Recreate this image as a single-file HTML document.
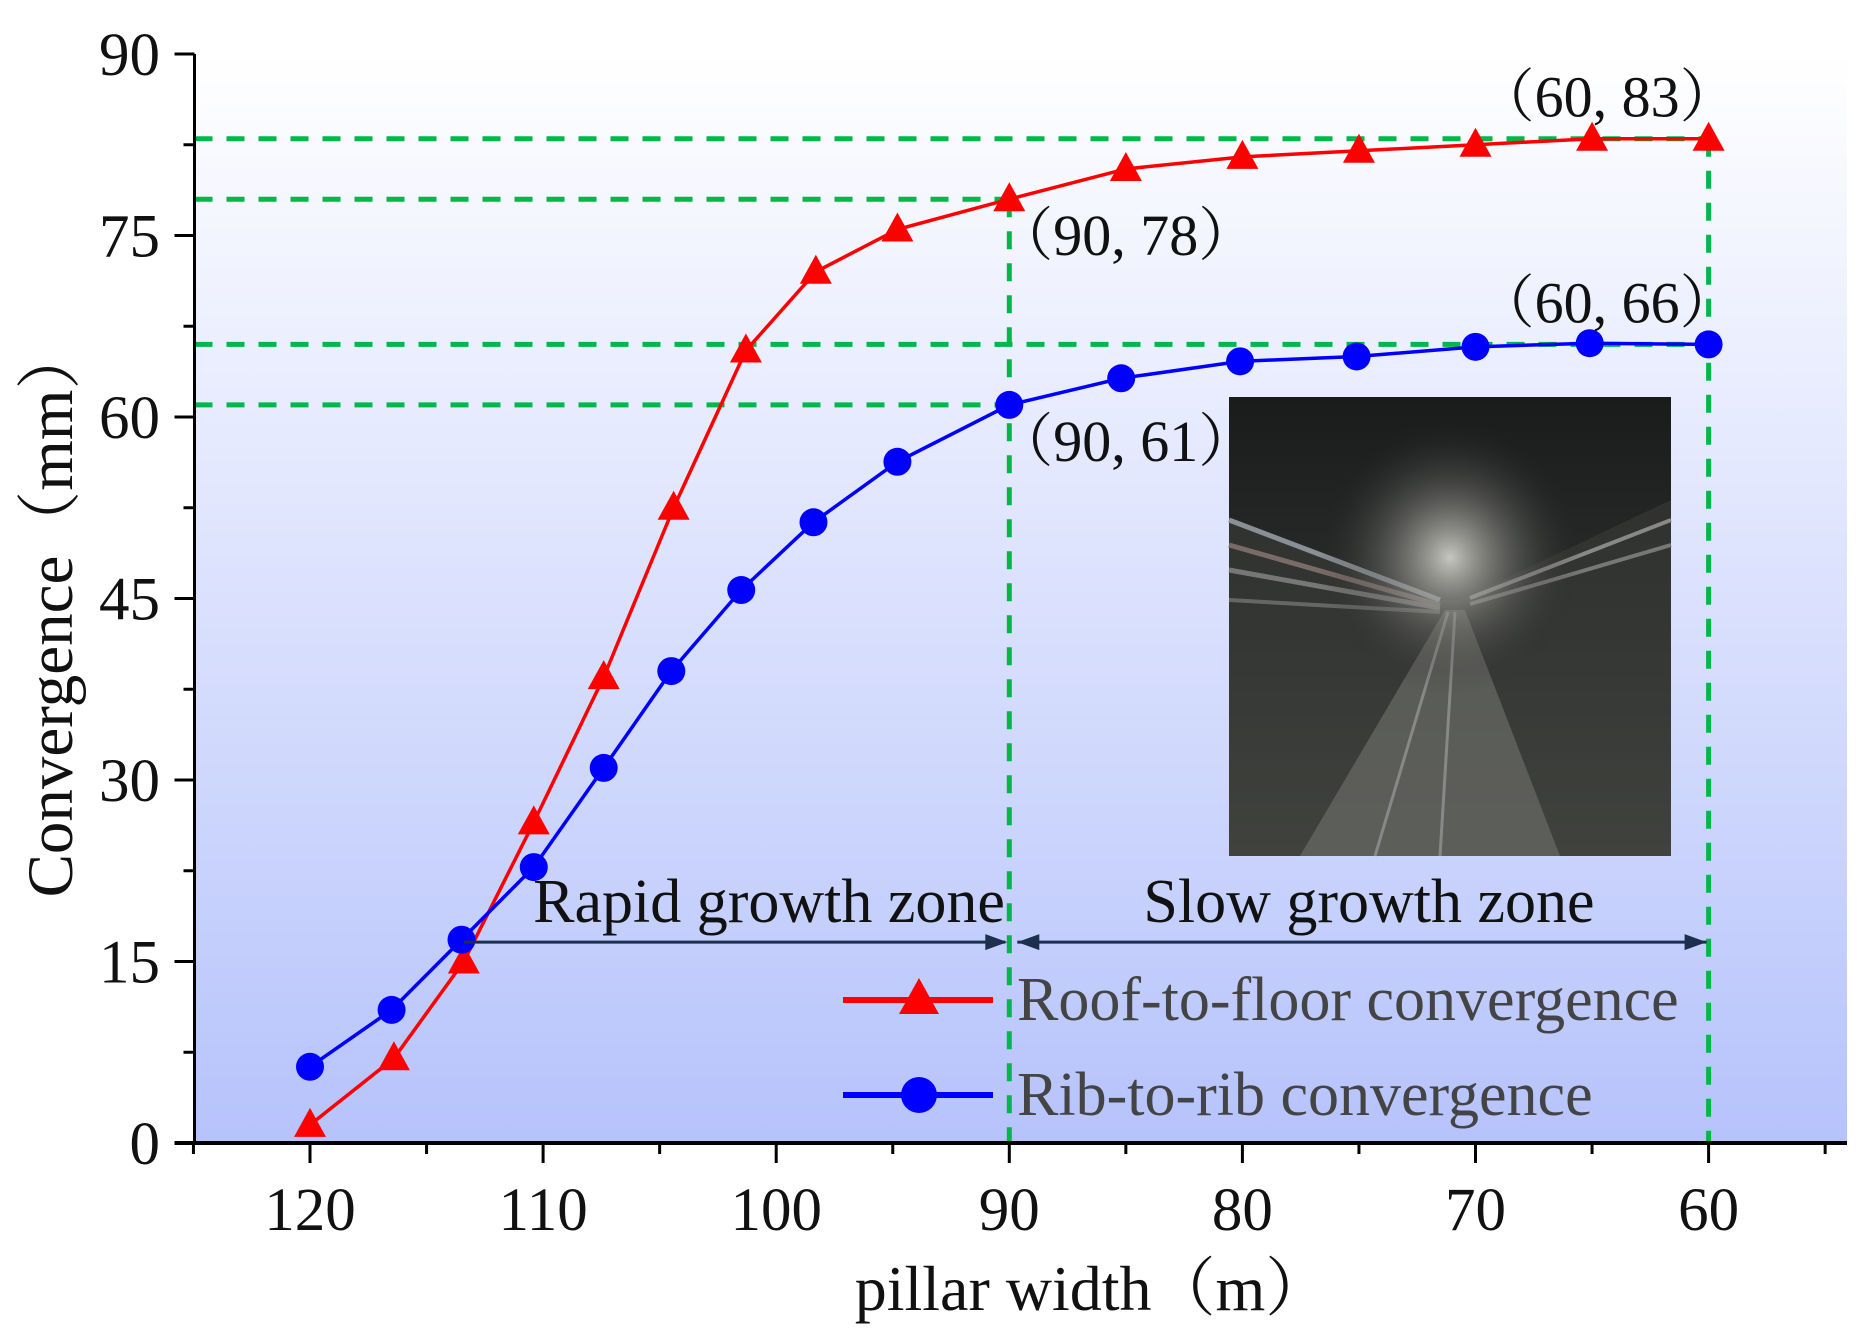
<!DOCTYPE html>
<html><head><meta charset="utf-8"><style>
html,body{margin:0;padding:0;background:#fff;}
svg{display:block;}
text{font-family:"Liberation Serif","Noto Serif CJK SC",serif;}
</style></head><body>
<svg id="chart" width="1871" height="1342" viewBox="0 0 1871 1342" xmlns="http://www.w3.org/2000/svg">
<defs>
<linearGradient id="bg" x1="0" y1="0" x2="0" y2="1">
<stop offset="0" stop-color="#ffffff"/><stop offset="1" stop-color="#b6c3fb"/>
</linearGradient>
<linearGradient id="tun" x1="0" y1="0" x2="0" y2="1">
<stop offset="0" stop-color="#1a1c1c"/><stop offset="0.5" stop-color="#2b2e2c"/><stop offset="1" stop-color="#4a4c48"/>
</linearGradient>
<radialGradient id="light" cx="0.5" cy="0.35" r="0.3">
<stop offset="0" stop-color="#d8d8d0" stop-opacity="0.9"/><stop offset="1" stop-color="#222" stop-opacity="0"/>
</radialGradient>
</defs>
<rect x="195" y="54" width="1652" height="1089" fill="url(#bg)"/>
<g id="photo">
<rect x="1229" y="397" width="442" height="459" fill="url(#tun)"/>
<polygon points="1229,520 1440,600 1460,600 1671,500 1671,856 1229,856" fill="#3a3c38" opacity="0.6"/>
<polygon points="1300,856 1445,610 1465,610 1560,856" fill="#6a6b66" opacity="0.7"/>
<line x1="1375" y1="856" x2="1448" y2="612" stroke="#888" stroke-width="3"/>
<line x1="1440" y1="856" x2="1455" y2="612" stroke="#888" stroke-width="3"/>
<line x1="1229" y1="520" x2="1440" y2="600" stroke="#8a8f95" stroke-width="5"/>
<line x1="1229" y1="545" x2="1440" y2="605" stroke="#7a6b66" stroke-width="5"/>
<line x1="1229" y1="570" x2="1440" y2="608" stroke="#777" stroke-width="5"/>
<line x1="1229" y1="600" x2="1440" y2="612" stroke="#666" stroke-width="4"/>
<line x1="1671" y1="520" x2="1470" y2="598" stroke="#888" stroke-width="4"/>
<line x1="1671" y1="545" x2="1470" y2="604" stroke="#777" stroke-width="4"/>
<rect x="1229" y="397" width="442" height="459" fill="url(#light)"/>
</g>
<g id="guides"></g>
<g id="axes"></g>
<g id="series"></g>
<g id="labels"></g>
</svg>
<script>
const xValsRed=[120,116.4,113.4,110.4,107.4,104.4,101.3,98.3,94.8,90,85,80,75,70,65,60];
const roofFloor=[1.5,7,15,26.5,38.5,52.5,65.5,72,75.5,78,80.5,81.5,82,82.5,83,83];
const xValsBlue=[120,116.5,113.5,110.4,107.4,104.5,101.5,98.4,94.8,90,85.2,80.1,75.1,70,65.1,60];
const ribRib=[6.3,11,16.8,22.8,31,39,45.7,51.3,56.3,61,63.2,64.6,65,65.8,66.1,66];
const yTicks=[0,15,30,45,60,75,90];
const xTicks=[120,110,100,90,80,70,60];
const annotations=[[60,83,"（60, 83）"],[90,78,"（90, 78）"],[60,66,"（60, 66）"],[90,61,"（90, 61）"]];

const NS="http://www.w3.org/2000/svg";
const X0=194.5,X1=1847,Y0=1143,YT=54;
const sx=v=>310+(120-v)*23.31;
const sy=v=>Y0-v*(Y0-YT)/90;
function mk(tag,attrs,parent,txt){const e=document.createElementNS(NS,tag);for(const k in attrs)e.setAttribute(k,attrs[k]);if(txt!==undefined)e.textContent=txt;parent.appendChild(e);return e;}
const axes=document.getElementById('axes'),guides=document.getElementById('guides'),series=document.getElementById('series'),labels=document.getElementById('labels');

const gc="#00b84a",gd="18 14";
[[83,60],[78,90],[66,60],[61,90]].forEach(([y,x])=>{
  const l=mk('line',{x1:X0,y1:sy(y),x2:sx(x),y2:sy(y),stroke:gc,'stroke-width':5,'stroke-dasharray':gd},guides);
  
  
});
[[90,78],[60,83]].forEach(([x,y])=>{
  const l=mk('line',{x1:sx(x),y1:sy(y),x2:sx(x),y2:Y0,stroke:gc,'stroke-width':5,'stroke-dasharray':gd},guides);
  
  
});

let a=mk('line',{x1:X0,y1:YT,x2:X0,y2:Y0+2,stroke:'#000','stroke-width':3},axes);

a=mk('line',{x1:X0-20,y1:Y0,x2:X1,y2:Y0,stroke:'#000','stroke-width':4},axes);

for(let v=0;v<=90;v+=7.5){const maj=v%15===0;mk('line',{x1:X0-(maj?20:11),y1:sy(v),x2:X0,y2:sy(v),stroke:'#000','stroke-width':3},axes);}
yTicks.forEach(v=>{const t=mk('text',{x:160,y:sy(v)+21,'text-anchor':'end','font-size':61,fill:'#111'},axes,String(v));
  });
for(let v=125;v>=54.5;v-=5){const maj=v%10===0;mk('line',{x1:sx(v),y1:Y0,x2:sx(v),y2:Y0+(maj?20:11),stroke:'#000','stroke-width':3},axes);}
xTicks.forEach(v=>{const t=mk('text',{x:sx(v),y:1230,'text-anchor':'middle','font-size':61,fill:'#111'},axes,String(v));
  });
let t=mk('text',{x:1092,y:1310,'text-anchor':'middle','font-size':64,fill:'#111'},axes,'pillar width（m）');

t=mk('text',{x:0,y:0,'text-anchor':'middle','font-size':65,fill:'#111',transform:'translate(72,611) rotate(-90)'},axes,'Convergence（mm）');


const navy="#1c2f4e";
function arrowHead(x,y,dir){return mk('polygon',{points:`${x},${y} ${x-dir*22},${y-8} ${x-dir*22},${y+8}`,fill:navy},labels);}
const ay=sy(16.6);
let ar=mk('line',{x1:sx(113.4),y1:ay,x2:sx(90)-4,y2:ay,stroke:navy,'stroke-width':3},labels);

arrowHead(sx(90)-2,ay,1);
ar=mk('line',{x1:sx(90)+8,y1:ay,x2:sx(60)-2,y2:ay,stroke:navy,'stroke-width':3},labels);

arrowHead(sx(90)+8,ay,-1);arrowHead(sx(60)-2,ay,1);
t=mk('text',{x:769,y:922,'text-anchor':'middle','font-size':62,fill:'#111'},labels,'Rapid growth zone');

t=mk('text',{x:1369,y:922,'text-anchor':'middle','font-size':62,fill:'#111'},labels,'Slow growth zone');


function drawSeries(xs,ys,color,shape,name){
  const pts=xs.map((x,i)=>sx(x)+','+sy(ys[i])).join(' ');
  const pl=mk('polyline',{points:pts,fill:'none',stroke:color,'stroke-width':3.5},series);
  
  xs.forEach((x,i)=>{const cx=sx(x),cy=sy(ys[i]);let m;
    if(shape==='tri')m=mk('polygon',{points:`${cx},${cy-17} ${cx-16},${cy+12} ${cx+16},${cy+12}`,fill:color},series);
    else m=mk('circle',{cx:cx,cy:cy,r:14,fill:color},series);
    });
}
drawSeries(xValsRed,roofFloor,'#ff0000','tri','roof-to-floor');
drawSeries(xValsBlue,ribRib,'#0000ff','circ','rib-to-rib');

annotations.forEach(([x,y,s])=>{
  const ax=x===60?sx(60)-232:sx(90)-14, ayy=x===60?sy(y)-22:sy(y)+56;
  const e=mk('text',{x:ax,y:ayy,'font-size':58,fill:'#111'},labels,s);
  
});

const lg=mk('g',{},labels);

[[1000,'#ff0000','tri','Roof-to-floor convergence'],[1095,'#0000ff','circ','Rib-to-rib convergence']].forEach(([y,c,sh,txt])=>{
  const g=mk('g',{},lg);
  
  mk('line',{x1:843,y1:y,x2:993,y2:y,stroke:c,'stroke-width':6},g);
  if(sh==='tri')mk('polygon',{points:`919,${y-22} 899,${y+14} 939,${y+14}`,fill:c},g);
  else mk('circle',{cx:919,cy:y,r:18,fill:c},g);
  mk('text',{x:1017,y:y+20,'font-size':62,fill:'#444'},g,txt);
});
</script>
</body></html>
